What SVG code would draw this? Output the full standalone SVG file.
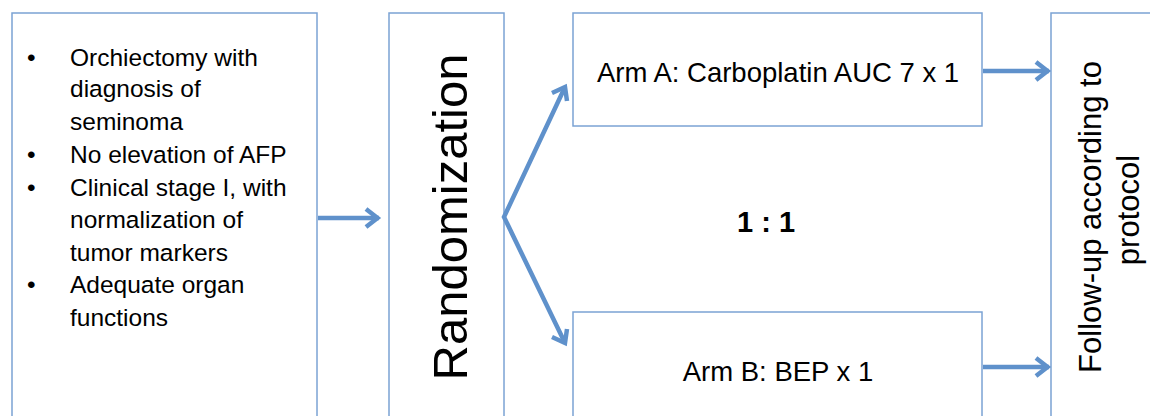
<svg xmlns="http://www.w3.org/2000/svg" width="1150" height="416" viewBox="0 0 1150 416">
<defs>
<style>
.box{fill:#ffffff;stroke:#7BA3D4;stroke-width:1.5}
.t{font-family:"Liberation Sans",Arial,sans-serif;fill:#000000}
.c{fill:none;stroke:#5F91CB;stroke-width:4.5;stroke-linecap:butt}
</style>
<marker id="ah" markerUnits="userSpaceOnUse" viewBox="-16 -11 18 22" refX="0" refY="0" markerWidth="18" markerHeight="22" orient="auto" overflow="visible">
<path d="M-13,-9 L-1.5,0 L-13,9" fill="none" stroke="#5F91CB" stroke-width="4.5" stroke-linejoin="miter" stroke-linecap="butt"/>
</marker>
</defs>
<rect width="1150" height="416" fill="#ffffff"/>
<g id="eligibility">
<rect class="box" x="12" y="13" width="305" height="420"/>
<g class="t" font-size="24.5">
<text x="27" y="66">•</text>
<text x="70" y="66">Orchiectomy with</text>
<text x="70" y="97">diagnosis of</text>
<text x="70" y="130">seminoma</text>
<text x="27" y="163">•</text>
<text x="70" y="163">No elevation of AFP</text>
<text x="27" y="196">•</text>
<text x="70" y="196">Clinical stage I, with</text>
<text x="70" y="228">normalization of</text>
<text x="70" y="261">tumor markers</text>
<text x="27" y="293">•</text>
<text x="70" y="293">Adequate organ</text>
<text x="70" y="326">functions</text>
</g>
</g>
<g id="randomization">
<rect class="box" x="389" y="13" width="115" height="420"/>
<text class="t" font-size="49" text-anchor="middle" transform="translate(467,217) rotate(-90)">Randomization</text>
</g>
<g id="armA">
<rect class="box" x="573" y="13" width="409" height="113"/>
<text class="t" font-size="27.5" text-anchor="middle" x="778" y="82">Arm A: Carboplatin AUC 7 x 1</text>
</g>
<g id="armB">
<rect class="box" x="573" y="312" width="409" height="120"/>
<text class="t" font-size="27.5" text-anchor="middle" x="778" y="381">Arm B: BEP x 1</text>
</g>
<g id="ratio">
<text class="t" font-size="29" font-weight="bold" text-anchor="middle" x="766" y="232">1 : 1</text>
</g>
<g id="followup">
<rect class="box" x="1051" y="13" width="120" height="420"/>
<text class="t" font-size="31" text-anchor="middle" transform="translate(1101,217) rotate(-90)">Follow-up according to</text>
<text class="t" font-size="31" text-anchor="middle" transform="translate(1139,210) rotate(-90)">protocol</text>
</g>
<g id="connectors">
<line class="c" x1="318" y1="218" x2="379" y2="218" marker-end="url(#ah)"/>
<polyline class="c" points="565,87 504,217 565,343" stroke-linejoin="miter"/>
<path d="M552,93 L565,87 L567,101" fill="none" stroke="#5F91CB" stroke-width="4.5"/>
<path d="M552,337 L565,343 L567,329" fill="none" stroke="#5F91CB" stroke-width="4.5"/>
<line class="c" x1="983" y1="71" x2="1049" y2="71" marker-end="url(#ah)"/>
<line class="c" x1="983" y1="367" x2="1049" y2="367" marker-end="url(#ah)"/>
</g>
</svg>
